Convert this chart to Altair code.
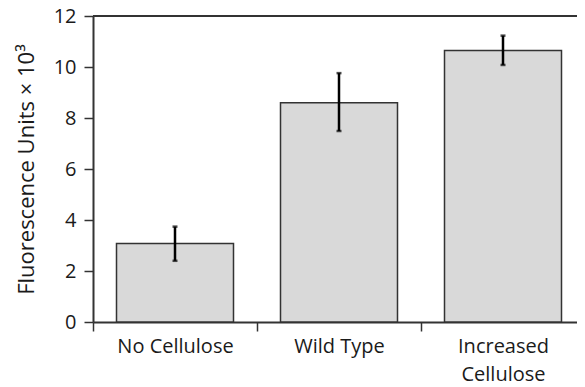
import altair as alt
import pandas as pd

categories = ["No Cellulose", "Wild Type", "Increased\nCellulose"]
means = [3.08, 8.60, 10.65]
err_low = [2.40, 7.49, 10.08]
err_high = [3.74, 9.76, 11.23]
y_ticks = [0, 2, 4, 6, 8, 10, 12]

df = pd.DataFrame({"cat": categories, "mean": means, "lo": err_low, "hi": err_high})

FONT = "Open Sans"
INK = "#1a1a1a"
LINE = "#333333"

x_scale = alt.Scale(paddingInner=0, paddingOuter=0, range=[0, 492])

x_enc = alt.X("cat:N", sort=categories, title=None, scale=x_scale,
              axis=alt.Axis(labelAngle=0, tickBand="extent", tickSize=9, tickWidth=1.5,
                            tickColor=LINE, domainColor=LINE, domainWidth=2,
                            labelFont=FONT, labelFontSize=20, labelColor=INK,
                            labelPadding=5, labelLineHeight=28,
                            labelExpr="split(datum.label, '\\n')"))

bars = alt.Chart(df).mark_bar(size=117, fill="#d9d9d9", stroke=LINE, strokeWidth=1.5).encode(
    x=x_enc,
    y=alt.Y("mean:Q", title="Fluorescence Units × 10³",
            scale=alt.Scale(domain=[0, 12], nice=False, zero=True),
            axis=alt.Axis(values=y_ticks, tickSize=9, tickWidth=1.5, tickColor=LINE,
                          domainColor=LINE, domainWidth=2, grid=False,
                          labelFont=FONT, labelFontSize=20, labelColor=INK,
                          labelPadding=8, titleFont=FONT, titleFontSize=22,
                          titleFontWeight="normal", titleColor=INK,
                          titlePadding=15)),
)

rules = alt.Chart(df).mark_rule(color="black", strokeWidth=2.5).encode(
    x=alt.X("cat:N", sort=categories, scale=x_scale),
    y="lo:Q",
    y2="hi:Q",
)

caps_lo = alt.Chart(df).mark_tick(color="black", size=5, thickness=2.5).encode(
    x=alt.X("cat:N", sort=categories, scale=x_scale), y="lo:Q")
caps_hi = alt.Chart(df).mark_tick(color="black", size=5, thickness=2.5).encode(
    x=alt.X("cat:N", sort=categories, scale=x_scale), y="hi:Q")

top_border = alt.Chart(df).mark_rule(color=LINE, strokeWidth=2).encode(
    x=alt.value(0), x2=alt.value(492), y=alt.value(0))

chart = alt.layer(bars, rules, caps_lo, caps_hi, top_border).properties(
    width=484, height=306,
    autosize=alt.AutoSizeParams(type="none"),
    padding={"left": 85, "top": 8, "right": 0, "bottom": 65},
).configure_view(stroke=None).configure(background="white")

chart.save("out.html", embed_options={"renderer": "svg", "actions": False})
